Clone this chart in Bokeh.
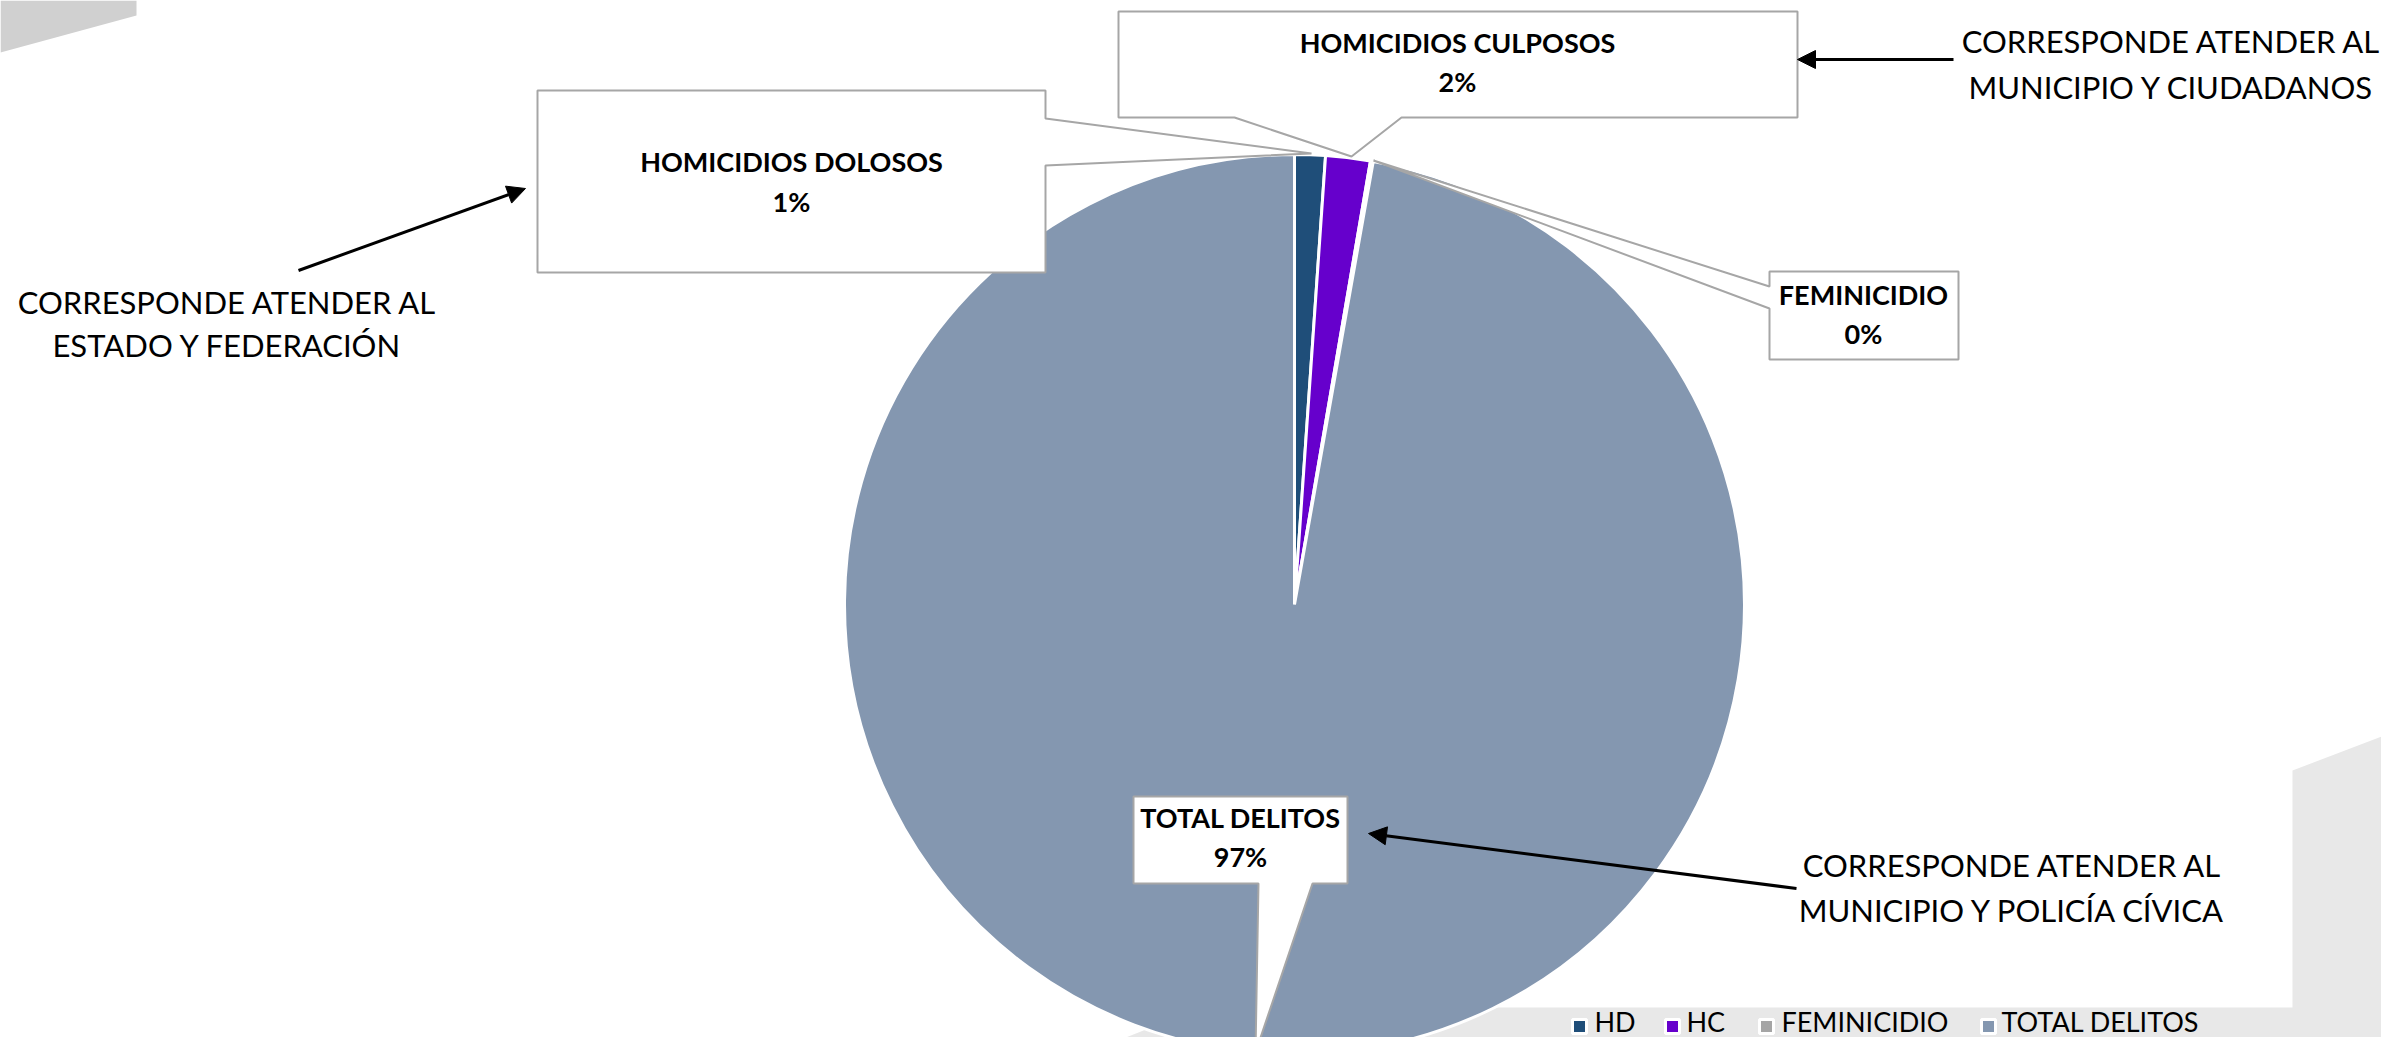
from bokeh.plotting import figure
from bokeh.models import Range1d, ColumnDataSource, Arrow, NormalHead
from bokeh.core.properties import value
from bokeh.embed import file_html
from bokeh.resources import INLINE
import math

# ---------------- data ----------------
categories = ["HD", "HC", "FEMINICIDIO", "TOTAL DELITOS"]
label_names = ["HOMICIDIOS DOLOSOS", "HOMICIDIOS CULPOSOS", "FEMINICIDIO", "TOTAL DELITOS"]
values = [11, 16, 1, 972]
colors = ["#1F4E79", "#6600CC", "#A5A5A5", "#8497B0"]

notes = [
    ["CORRESPONDE ATENDER AL", "ESTADO Y FEDERACIÓN"],
    ["CORRESPONDE ATENDER AL", "MUNICIPIO Y CIUDADANOS"],
    ["CORRESPONDE ATENDER AL", "MUNICIPIO Y POLICÍA CÍVICA"],
]

# ---------------- layout ----------------
W, H = 2397, 1053
PW, PH = W - 16, H - 16
TXT = 14  # vertical correction for text baselines
def Y(y):
    return H - y
def YT(y):
    return H - (y - TXT)

p = figure(width=PW, height=PH, output_backend="svg", toolbar_location=None,
           x_range=Range1d(0, PW), y_range=Range1d(H - PH, H),
           x_axis_location=None, y_axis_location=None, min_border=0)
p.grid.visible = False
p.outline_line_color = None
p.background_fill_color = "white"
p.border_fill_color = "white"

# background decorations
p.patch([0, 136, 136, 0], [Y(0), Y(0), Y(15), Y(52)], fill_color="#D0D0D0", line_color=None)
p.patch([1085, 1201, 2292, 2292, 2397, 2397],
        [Y(1053), Y(1007), Y(1007), Y(770), Y(730), Y(1053)],
        fill_color="#E8E8E8", line_color=None)

# pie
cx, cy, r = 1294, Y(604), 450
total = sum(values)
starts, ends, cum = [], [], 0.0
for v in values:
    starts.append(math.pi / 2 - 2 * math.pi * cum / total)
    cum += v
    ends.append(math.pi / 2 - 2 * math.pi * cum / total)
src = ColumnDataSource(dict(cat=categories, start=starts, end=ends, color=colors))
p.wedge(x=cx, y=cy, radius=r, start_angle="start", end_angle="end", direction="clock",
        fill_color="color", line_color="white", line_width=3, source=src)

# callout boxes (white with grey outline and pointer)
box_line = "#A6A6A6"
callouts = [
    # HD
    [(537, 90), (1045, 90), (1045, 118), (1311, 153), (1045, 165), (1045, 272), (537, 272)],
    # HC
    [(1118, 11), (1797, 11), (1797, 117), (1401, 117), (1351, 156), (1234, 117), (1118, 117)],
    # FEM
    [(1769, 271), (1958, 271), (1958, 359), (1769, 359), (1769, 308), (1373, 160), (1769, 286)],
    # TOTAL
    [(1133, 796), (1347, 796), (1347, 883), (1312, 883), (1255, 1052), (1258, 883), (1133, 883)],
]
p.patches([[pt[0] for pt in c] for c in callouts], [[Y(pt[1]) for pt in c] for c in callouts],
          fill_color="white", line_color=box_line, line_width=2)

# label texts
pcts = [f"{round(100 * v / total)}%" for v in values]
lab_x = [791, 1457, 1863, 1240]
lab_base1 = [175, 56, 308, 831]
lab_base2 = [215, 95, 347, 870]
lt, lx, ly = [], [], []
for i in range(4):
    lt += [label_names[i], pcts[i]]
    lx += [lab_x[i], lab_x[i]]
    ly += [YT(lab_base1[i]), YT(lab_base2[i])]
p.text(x=lx, y=ly, text=lt, text_align="center", text_baseline="alphabetic",
       text_font=value("Lato"), text_font_style="bold", text_font_size="27px", text_color="black")

# side notes
note_x = [227, 2171, 2012]
note_base = [(315, 358), (54, 100), (878, 923)]
nt, nx, ny = [], [], []
for i, lines in enumerate(notes):
    for j, line in enumerate(lines):
        nt.append(line)
        nx.append(note_x[i])
        ny.append(YT(note_base[i][j]))
p.text(x=nx, y=ny, text=nt, text_align="center", text_baseline="alphabetic",
       text_font=value("Lato"), text_font_size="31px", text_color="black")

# arrows
arrows = [((298, 270), (525, 188)), ((1953, 59), (1797, 59)), ((1796, 888), (1368, 833))]
for (x0, y0), (x1, y1) in arrows:
    p.add_layout(Arrow(end=NormalHead(size=18, fill_color="black", line_color="black"),
                       x_start=x0, y_start=Y(y0), x_end=x1, y_end=Y(y1),
                       line_color="black", line_width=3))

# legend
leg_sq_x = [1579, 1672, 1766, 1988]
leg_tx_x = [1594, 1686, 1781, 2001]
p.rect(x=leg_sq_x, y=[Y(1026)] * 4, width=14, height=14, fill_color=colors,
       line_color="white", line_width=3)
p.text(x=leg_tx_x, y=[YT(1035)] * 4, text=categories, text_align="left", text_baseline="alphabetic",
       text_font=value("Lato"), text_font_size="27px", text_color="black")

open("out.html", "w").write(file_html(p, INLINE))
